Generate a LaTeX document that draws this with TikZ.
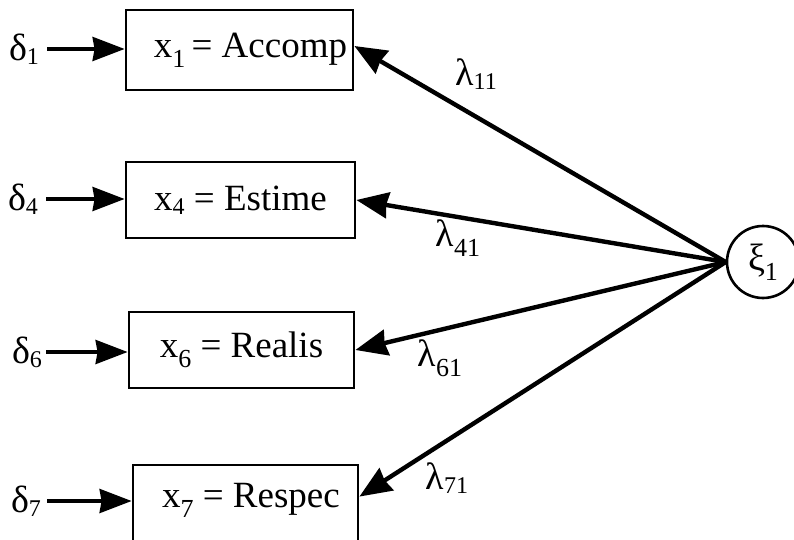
\documentclass[tikz,border=0pt]{standalone}
\usepackage{fontspec}
\setmainfont{Liberation Serif}
\usetikzlibrary{arrows.meta,calc}
\tikzset{
  obsbox/.style={draw,line width=2.8pt,minimum width=227pt,minimum height=78pt,inner sep=0pt,font=\fontsize{37}{40}\selectfont},
  errlbl/.style={font=\fontsize{38}{40}\selectfont,inner sep=0pt},
  lamlbl/.style={font=\fontsize{38}{40}\selectfont,inner sep=0pt},
  inarr/.style={line width=3.4pt,-{Stealth[length=32pt,width=24pt,inset=2pt]}},
  loadarr/.style={line width=4.4pt,-{Stealth[length=32pt,width=26pt,inset=2pt]}},
  latent/.style={draw,circle,line width=2.6pt,minimum size=72pt,inner sep=0pt,font=\fontsize{38}{40}\selectfont}
}
\newcommand{\sbl}[1]{\raisebox{-10pt}{\fontsize{26}{28}\selectfont #1}}
\newcommand{\sbs}[1]{\raisebox{-4pt}{\fontsize{24}{26}\selectfont #1}}
\begin{document}
\begin{tikzpicture}[x=1pt,y=-1pt]
\useasboundingbox (0,0) rectangle (794,540);
\node[obsbox,minimum height=80pt] (b1) at (239.5,50) {\hspace{22pt}x\sbl{1}\,= Accomp};
\node[obsbox,minimum width=229pt,minimum height=76pt] (b2) at (240.5,200) {x\sbs{4} = Estime};
\node[obsbox,minimum width=225pt,minimum height=76pt] (b3) at (241.5,350) {x\sbl{6} = Realis};
\node[obsbox,minimum width=225pt,minimum height=110pt] (b4) at (245.5,520) {};
\node[errlbl,font=\fontsize{37}{40}\selectfont] (b4t) at (251,500) {x\sbl{7} = Respec};
\node[errlbl] (d1) at (24,49) {δ\sbs{1}};
\node[errlbl] (d4) at (23,199) {δ\sbs{4}};
\node[errlbl] (d6) at (27,352) {δ\sbs{6}};
\node[errlbl] (d7) at (26,501) {δ\sbs{7}};
\draw[inarr] (d1.east) ++(8,0) coordinate (d1s) -- (d1s -| b1.west);
\draw[inarr] (d4.east) ++(8,0) coordinate (d4s) -- (d4s -| b2.west);
\draw[inarr] (d6.east) ++(4,0) coordinate (d6s) -- (d6s -| b3.west);
\draw[inarr] (d7.east) ++(6,0) coordinate (d7s) -- (d7s -| b4.west);
\node[latent] (xi) at (763,262) {ξ\sbl{1}};
\coordinate (t1) at ($(b1.east)+(0,-4)$);
\coordinate (t4) at ($(b4.north east)+(0,33)$);
\draw[loadarr] (xi.west) -- (t1);
\draw[loadarr] (xi.west) -- (b2.east);
\draw[loadarr] (xi.west) -- (b3.east);
\draw[loadarr] (xi.west) -- (t4);
\node[lamlbl] (l11) at (476,74) {λ\sbs{11}};
\node[lamlbl] (l41) at (458,238) {λ\sbl{41}};
\node[lamlbl] (l61) at (440,358) {λ\sbl{61}};
\node[lamlbl] (l71) at (447,478) {λ\sbs{71}};
\end{tikzpicture}
\end{document}
